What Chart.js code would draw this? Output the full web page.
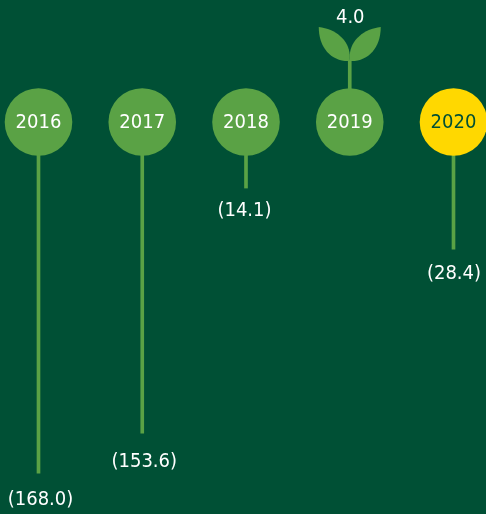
<!DOCTYPE html>
<html>
<head>
<meta charset="utf-8">
<style>
  html, body { margin: 0; padding: 0; background: #005035; overflow: hidden; }
  canvas { display: block; }
</style>
<script src="https://cdn.jsdelivr.net/npm/chart.js@4"></script>
</head>
<body>
<canvas id="chart" width="486" height="514"></canvas>
<script>
const years = ["2016", "2017", "2018", "2019", "2020"];
// figures printed in the picture
const printedValues = [-168.0, -153.6, -14.1, 4.0, -28.4];
// how far each line reaches: the source graphic is not drawn to scale with its figures
const lineReach = [-168.0, -148.9, -31.6, 29.7, -60.8];
const yearBase = [0, 0, 0, 0, 0];

const GREEN = "#5aa245";
const YELLOW = "#ffd800";
const DARK = "#005035";
const FONT = '20px "DejaVu Sans Condensed", "DejaVu Sans"';

function printed(v) {
  return v < 0 ? "(" + Math.abs(v).toFixed(1) + ")" : v.toFixed(1);
}

const labelsPlugin = {
  id: "labels",
  afterDatasetsDraw(chart) {
    const { ctx, scales } = chart;
    const labelGaps = [27, 29, 23, 42, 25];
    const labelNudge = [2, 2, -1.5, 0.5, 0.5];
    ctx.save();
    ctx.font = FONT;
    ctx.textAlign = "center";
    ctx.textBaseline = "middle";
    years.forEach((year, i) => {
      const x = scales.x.getPixelForValue(i);
      ctx.fillStyle = i === 4 ? DARK : "#ffffff";
      ctx.fillText(year, x, scales.y.getPixelForValue(0) + 1);
      const end = scales.y.getPixelForValue(lineReach[i]);
      ctx.fillStyle = "#ffffff";
      ctx.fillText(printed(printedValues[i]), x + labelNudge[i], printedValues[i] < 0 ? end + labelGaps[i] : end - labelGaps[i]);
      if (printedValues[i] > 0) drawLeaves(ctx, x, end);
    });
    ctx.restore();
  },
};

// the sprout on top of the positive year
function drawLeaves(ctx, x, y) {
  ctx.fillStyle = GREEN;
  [-1, 1].forEach((side) => {
    ctx.beginPath();
    ctx.moveTo(x + side * 31, y - 33);
    ctx.bezierCurveTo(x + side * 14, y - 31, x + side * 1, y - 20, x, y - 5);
    ctx.lineTo(x, y + 1);
    ctx.bezierCurveTo(x + side * 18, y + 2, x + side * 31, y - 12, x + side * 31, y - 33);
    ctx.closePath();
    ctx.fill();
  });
}

new Chart(document.getElementById("chart"), {
  data: {
    labels: years,
    datasets: [
      {
        type: "line",
        data: yearBase,
        showLine: false,
        pointRadius: 33.8,
        pointHoverRadius: 33.8,
        pointBorderWidth: 0,
        pointBackgroundColor: [GREEN, GREEN, GREEN, GREEN, YELLOW],
        order: 0,
        clip: false,
      },
      {
        type: "bar",
        data: lineReach,
        barThickness: 3,
        backgroundColor: GREEN,
        order: 1,
        clip: false,
      },
    ],
  },
  options: {
    responsive: false,
    animation: false,
    layout: { autoPadding: false, padding: { left: 38.5, right: 32.5, top: 0, bottom: 0 } },
    plugins: { legend: { display: false }, title: { display: false }, tooltip: { enabled: false } },
    scales: {
      x: { type: "category", display: false, offset: false },
      y: { type: "linear", display: false, min: -187.6, max: 58.4 },
    },
  },
  plugins: [labelsPlugin],
});
</script>
</body>
</html>
